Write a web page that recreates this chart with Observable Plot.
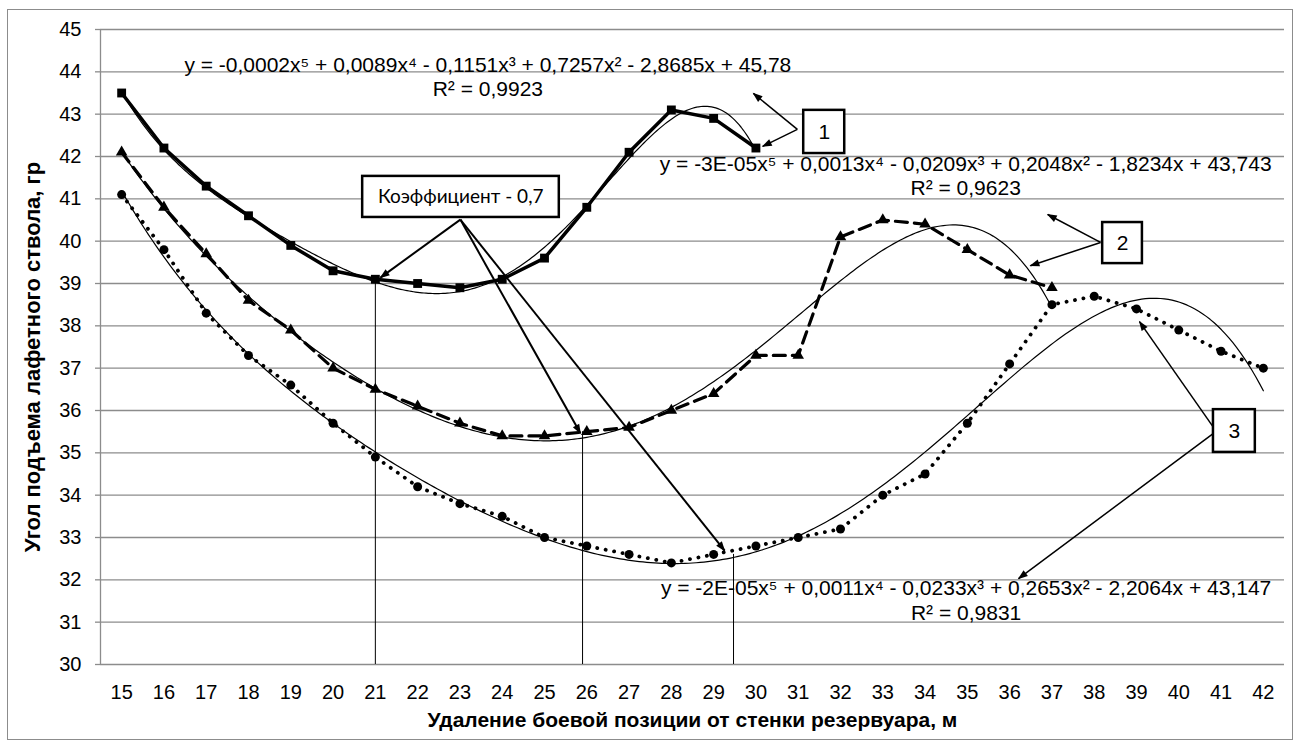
<!DOCTYPE html>
<html>
<head>
<meta charset="utf-8">
<script src="https://cdn.jsdelivr.net/npm/d3@7"></script>
<script src="https://cdn.jsdelivr.net/npm/@observablehq/plot@0.6"></script>
<style>
  html, body { margin: 0; padding: 0; background: #fff; }
  #wrap { position: relative; width: 1301px; height: 748px; overflow: hidden; }
  #border { position: absolute; left: 7px; top: 9px; width: 1284px; height: 729px; border: 1.5px solid #8c8c8c; pointer-events: none; }
  #chart svg { display: block; }
</style>
</head>
<body>
<div id="wrap"><div id="chart"></div><div id="border"></div></div>
<script>
// ---- categories / tick labels ----
const distance = [15, 16, 17, 18, 19, 20, 21, 22, 23, 24, 25, 26, 27, 28, 29, 30, 31, 32, 33, 34, 35, 36, 37, 38, 39, 40, 41, 42];
const yTicks = [30, 31, 32, 33, 34, 35, 36, 37, 38, 39, 40, 41, 42, 43, 44, 45];

// ---- series values (angle, degrees) ----
const angle1 = [43.5, 42.2, 41.3, 40.6, 39.9, 39.3, 39.1, 39.0, 38.9, 39.1, 39.6, 40.8, 42.1, 43.1, 42.9, 42.2];
const angle2 = [42.1, 40.8, 39.7, 38.6, 37.9, 37.0, 36.5, 36.1, 35.7, 35.4, 35.4, 35.5, 35.6, 36.0, 36.4, 37.3, 37.3, 40.1, 40.5, 40.4, 39.8, 39.2, 38.9];
const angle3 = [41.1, 39.8, 38.3, 37.3, 36.6, 35.7, 34.9, 34.2, 33.8, 33.5, 33.0, 32.8, 32.6, 32.4, 32.6, 32.8, 33.0, 33.2, 34.0, 34.5, 35.7, 37.1, 38.5, 38.7, 38.4, 37.9, 37.4, 37.0];

// ---- texts ----
const xTitle = "Удаление боевой позиции от стенки резервуара, м";
const yTitle = "Угол подъема лафетного ствола, гр";
const equations = [
  "y = -0,0002x⁵ + 0,0089x⁴ - 0,1151x³ + 0,7257x² - 2,8685x + 45,78",
  "y = -3E-05x⁵ + 0,0013x⁴ - 0,0209x³ + 0,2048x² - 1,8234x + 43,743",
  "y = -2E-05x⁵ + 0,0011x⁴ - 0,0233x³ + 0,2653x² - 2,2064x + 43,147"
];
const rSquared = ["R² = 0,9923", "R² = 0,9623", "R² = 0,9831"];
const boxLabels = ["Коэффициент - 0,7", "1", "2", "3"];

// ---- annotation placement (data units) ----
const eqPos = [{x: 23.66, y: 44.15, ry: 43.58}, {x: 34.96, y: 41.82, ry: 41.24}, {x: 34.97, y: 31.79, ry: 31.20}];
const boxPos = [
  {x1: 20.70, x2: 25.35, y1: 40.56, y2: 41.53, cx: 23.02, cy: 41.045},
  {x1: 31.13, x2: 32.10, y1: 42.07, y2: 43.09, cx: 31.615, cy: 42.58},
  {x1: 38.20, x2: 39.14, y1: 39.47, y2: 40.44, cx: 38.67, cy: 39.955},
  {x1: 40.82, x2: 41.81, y1: 35.01, y2: 36.02, cx: 41.315, cy: 35.515}
];
const arrowPos = [
  {x1: 23.01, y1: 40.51, x2: 21.12, y2: 39.14, w: 2},
  {x1: 23.01, y1: 40.51, x2: 25.85, y2: 35.46, w: 2},
  {x1: 23.01, y1: 40.51, x2: 29.26, y2: 32.69, w: 2},
  {x1: 30.98, y1: 42.64, x2: 29.94, y2: 43.49, w: 1.5},
  {x1: 30.98, y1: 42.64, x2: 30.16, y2: 42.24, w: 1.5},
  {x1: 38.15, y1: 39.97, x2: 36.90, y2: 40.63, w: 1.5},
  {x1: 38.15, y1: 39.97, x2: 36.49, y2: 39.42, w: 1.5},
  {x1: 40.82, y1: 35.60, x2: 39.07, y2: 38.10, w: 1.5},
  {x1: 40.82, y1: 35.46, x2: 36.21, y2: 32.03, w: 1.5}
];
const dropLines = [{x: 21, y1: 30, y2: 39.1}, {x: 25.9, y1: 30, y2: 35.5}, {x: 29.47, y1: 30, y2: 32.6}];

// ---- rows ----
const rows = (vals, s) => vals.map((v, i) => ({x: distance[i], y: v, s}));
const rows1 = rows(angle1, "1"), rows2 = rows(angle2, "2"), rows3 = rows(angle3, "3");

// ---- polynomial (5th degree) least-squares trendlines ----
function polyfit(xs, ys, deg) {
  const m = d3.mean(xs), sc = (d3.max(xs) - d3.min(xs)) / 2;
  const n = deg + 1;
  const A = Array.from({length: n}, () => new Array(n + 1).fill(0));
  xs.forEach((x, k) => {
    const t = (x - m) / sc;
    const p = d3.range(n).map(j => Math.pow(t, j));
    for (let i = 0; i < n; i++) {
      for (let j = 0; j < n; j++) A[i][j] += p[i] * p[j];
      A[i][n] += p[i] * ys[k];
    }
  });
  for (let c = 0; c < n; c++) {
    let piv = c;
    for (let r = c + 1; r < n; r++) if (Math.abs(A[r][c]) > Math.abs(A[piv][c])) piv = r;
    [A[c], A[piv]] = [A[piv], A[c]];
    for (let r = c + 1; r < n; r++) {
      const f = A[r][c] / A[c][c];
      for (let j = c; j <= n; j++) A[r][j] -= f * A[c][j];
    }
  }
  const coef = new Array(n).fill(0);
  for (let r = n - 1; r >= 0; r--) {
    let s = A[r][n];
    for (let j = r + 1; j < n; j++) s -= A[r][j] * coef[j];
    coef[r] = s / A[r][r];
  }
  return x => { const t = (x - m) / sc; return coef.reduce((a, c, j) => a + c * Math.pow(t, j), 0); };
}
const trendRows = [];
[rows1, rows2, rows3].forEach(rs => {
  const xs = rs.map(d => d.x), ys = rs.map(d => d.y);
  const f = polyfit(xs, ys, 5);
  const a = xs[0], b = xs[xs.length - 1], steps = 300;
  for (let k = 0; k <= steps; k++) { const x = a + (b - a) * k / steps; trendRows.push({x, y: f(x), s: rs[0].s}); }
});

const grey = "#8c8c8c";
const font = "'Liberation Sans', Arial, sans-serif";

const chart = Plot.plot({
  width: 1301,
  height: 748,
  marginLeft: 100,
  marginRight: 17,
  marginTop: 29,
  marginBottom: 84,
  style: {fontFamily: font, fontSize: "20px", background: "transparent", overflow: "visible"},
  x: {domain: [14.5, 42.5], axis: null},
  y: {domain: [30, 45], axis: null},
  marks: [
    Plot.gridY(yTicks, {stroke: grey, strokeOpacity: 1, strokeWidth: 1.3}),
    Plot.ruleX([14.5], {stroke: grey, strokeWidth: 1.3}),
    Plot.axisY({ticks: yTicks, tickSize: 5, tickPadding: 14, stroke: grey, strokeWidth: 1.3, fill: "black", fontSize: 20, tickFormat: d => String(d)}),
    Plot.axisX({ticks: distance, tickSize: 0, tickPadding: 20, fill: "black", fontSize: 20, tickFormat: d => String(d)}),
    Plot.text([xTitle], {frameAnchor: "bottom", dy: 56, lineAnchor: "middle", textAnchor: "middle", fontWeight: "bold", fontSize: 21, fill: "black"}),
    Plot.text([yTitle], {frameAnchor: "left", dx: -68, dy: 10, rotate: -90, lineAnchor: "middle", textAnchor: "middle", fontWeight: "bold", fontSize: 22, fill: "black"}),
    Plot.ruleX(dropLines, {x: "x", y1: "y1", y2: "y2", stroke: "black", strokeWidth: 1}),
    // data series
    Plot.line(rows1, {x: "x", y: "y", stroke: "black", strokeWidth: 3.5}),
    Plot.line(rows2, {x: "x", y: "y", stroke: "black", strokeWidth: 3.2, strokeDasharray: "12,7"}),
    Plot.line(rows3, {x: "x", y: "y", stroke: "black", strokeWidth: 3.8, strokeDasharray: "0.1,8.5", strokeLinecap: "round"}),
    Plot.dot(rows1, {x: "x", y: "y", symbol: "square", r: 5, fill: "black"}),
    Plot.dot(rows2, {x: "x", y: "y", symbol: "triangle", r: 4.3, fill: "black"}),
    Plot.dot(rows3, {x: "x", y: "y", symbol: "circle", r: 4.5, fill: "black"}),
    // trendlines
    Plot.line(trendRows, {x: "x", y: "y", z: "s", stroke: "black", strokeWidth: 1.2}),
    // equations
    Plot.text(eqPos, {x: "x", y: "y", text: (d, i) => equations[i], fontSize: 21, fill: "black"}),
    Plot.text(eqPos, {x: "x", y: "ry", text: (d, i) => rSquared[i], fontSize: 21, fill: "black"}),
    // callouts
    Plot.link(arrowPos, {x1: "x1", y1: "y1", x2: "x2", y2: "y2", stroke: "black", strokeWidth: "w", markerEnd: "arrow"}),
    Plot.rect(boxPos, {x1: "x1", x2: "x2", y1: "y1", y2: "y2", fill: "white", stroke: "black", strokeWidth: 2.5}),
    Plot.text(boxPos.slice(0, 1), {x: "cx", y: "cy", text: () => boxLabels[0], fontFamily: "Lato, 'Open Sans', sans-serif", fontSize: 19, fill: "black"}),
    Plot.text(boxPos.slice(1), {x: "cx", y: "cy", text: (d, i) => boxLabels[i + 1], fontSize: 21, fill: "black"})
  ]
});

// turn Plot's open arrow markers into filled arrowheads
const svg = d3.select(chart);
svg.selectAll("marker")
  .attr("viewBox", "-10 -5 12 10")
  .attr("markerUnits", "userSpaceOnUse")
  .attr("markerWidth", 12)
  .attr("markerHeight", 10)
  .attr("fill", "black")
  .attr("stroke", "none")
  .style("overflow", "visible")
  .selectAll("path")
  .attr("d", "M-9,-3.6L1,0L-9,3.6Z");

document.getElementById("chart").appendChild(chart);
</script>
</body>
</html>
